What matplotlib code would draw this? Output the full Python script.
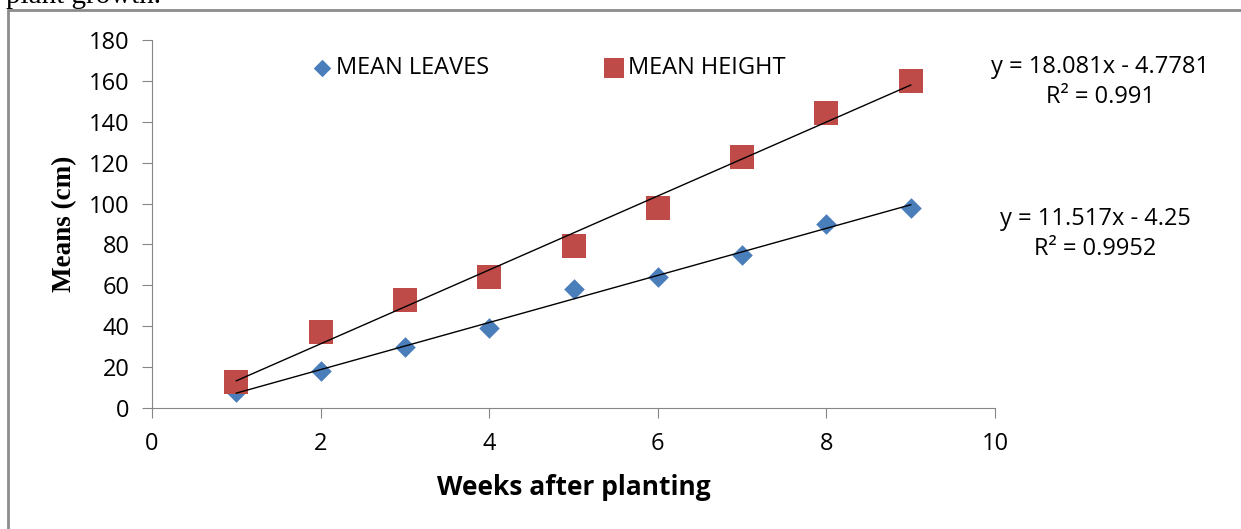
import numpy as np
from matplotlib import pyplot as plt
from matplotlib.patches import Rectangle

weeks = [1, 2, 3, 4, 5, 6, 7, 8, 9]
mean_leaves = [8, 18, 30, 39, 58, 64, 75, 90, 98]
mean_height = [12.6, 37, 53, 64, 79, 98, 123, 144.1, 160]

leaves_eq = "y = 11.517x - 4.25\nR² = 0.9952"
height_eq = "y = 18.081x - 4.7781\nR² = 0.991"

x_ticks = [0, 2, 4, 6, 8, 10]
y_ticks = [0, 20, 40, 60, 80, 100, 120, 140, 160, 180]


def main():
    fig = plt.figure(figsize=(12.41, 5.29), dpi=100)
    W, H = 1241, 529

    # chart frame (only the top and left edges fall inside the crop)
    fig.patches.append(Rectangle((8 / W, -0.2), 1.2, 1 - 10 / H + 0.2,
                                 transform=fig.transFigure, fill=False,
                                 edgecolor="#8c8c8c", lw=2))
    fig.text(6 / W, 1 - 3 / H, "plant growth.", family="Liberation Serif",
             fontsize=21, va="baseline", ha="left")

    ax = fig.add_axes([152 / W, 1 - 408 / H, (995 - 152) / W, (408 - 40) / H])
    x = np.array(weeks)

    ax.scatter(weeks, mean_leaves, marker="D", s=110, color="#4a7ebb",
               label="MEAN LEAVES", zorder=3, linewidths=0)
    ax.scatter(weeks, mean_height, marker="s", s=300, color="#be4b48",
               label="MEAN HEIGHT", zorder=3, linewidths=0)

    # linear trendlines
    for ys in (mean_leaves, mean_height):
        m, b = np.polyfit(x, ys, 1)
        ax.plot([x.min(), x.max()], [m * x.min() + b, m * x.max() + b],
                color="black", lw=1, zorder=4)

    ax.set_xlim(0, 10)
    ax.set_ylim(0, 180)
    ax.set_xticks(x_ticks)
    ax.set_yticks(y_ticks)
    for s in ("top", "right"):
        ax.spines[s].set_visible(False)
    for s in ("left", "bottom"):
        ax.spines[s].set_color("#868686")
    ax.tick_params(axis="both", colors="#868686", length=7, labelsize=17,
                   labelcolor="black")
    ax.tick_params(axis="x", pad=10)
    ax.tick_params(axis="y", pad=9)
    for lab in ax.get_xticklabels() + ax.get_yticklabels():
        lab.set_family("Open Sans")

    ax.set_xlabel("Weeks after planting", family="Open Sans", fontsize=19,
                  fontweight="bold", labelpad=13)
    ax.set_ylabel("Means (cm)", family="Liberation Serif", fontsize=19.5,
                  fontweight="bold", labelpad=9)

    ax.legend(loc="center left", bbox_to_anchor=(0.162, 1 - 28 / 368), ncol=2,
              frameon=False, prop={"family": "Open Sans", "size": 17},
              columnspacing=4.8, handlelength=1.0, handletextpad=0.1,
              markerscale=0.85)

    fig.text(1100 / W, 1 - 82 / H, height_eq, ha="center", va="center",
             family="Open Sans", fontsize=17, linespacing=1.3)
    fig.text(1095 / W, 1 - 234 / H, leaves_eq, ha="center", va="center",
             family="Open Sans", fontsize=17, linespacing=1.3)

    fig.savefig("out.png", dpi=100)


if __name__ == '__main__':
    main()
